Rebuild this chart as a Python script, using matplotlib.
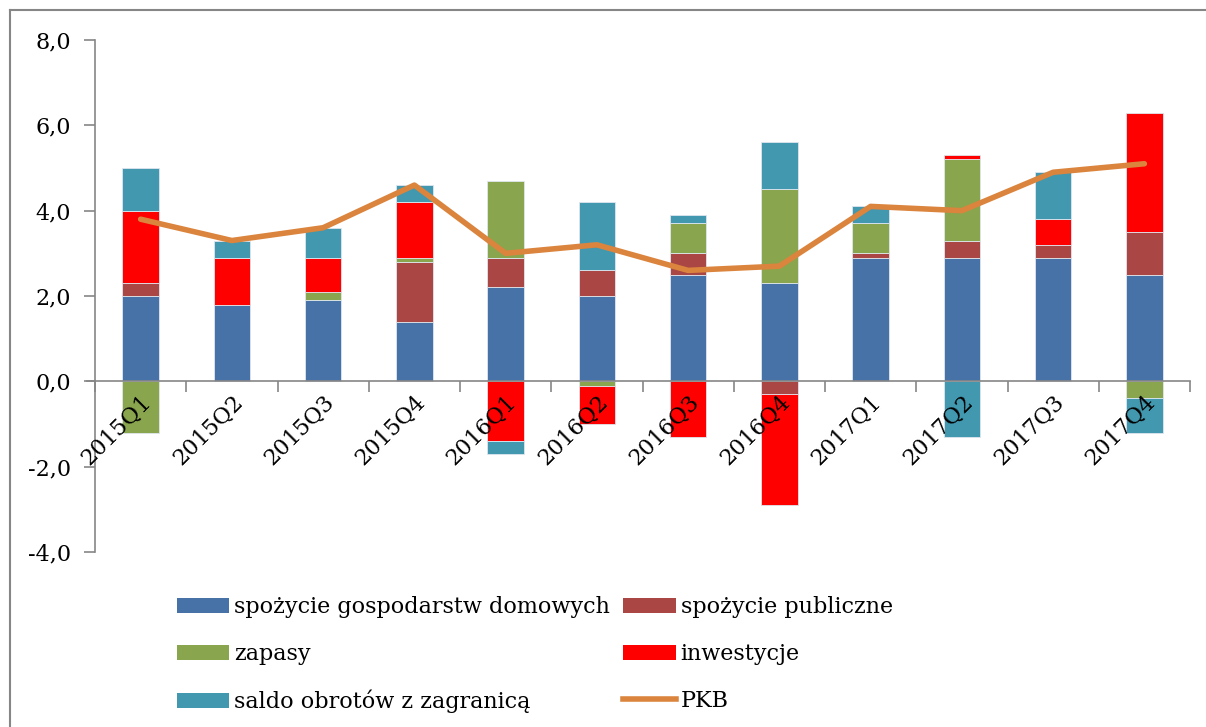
import numpy as np
import matplotlib
matplotlib.use('Agg')
import matplotlib.pyplot as plt
from matplotlib.patches import Patch
from matplotlib.lines import Line2D

plt.rcParams['font.family'] = ['DejaVu Serif']

# Data (percentage points contributions to GDP growth)
quarters = ['2015Q1', '2015Q2', '2015Q3', '2015Q4',
            '2016Q1', '2016Q2', '2016Q3', '2016Q4',
            '2017Q1', '2017Q2', '2017Q3', '2017Q4']
households = [2.0, 1.8, 1.9, 1.4, 2.2, 2.0, 2.5, 2.3, 2.9, 2.9, 2.9, 2.5]
public = [0.3, 0.0, 0.0, 1.4, 0.7, 0.6, 0.5, -0.3, 0.1, 0.4, 0.3, 1.0]
inventories = [-1.2, 0.0, 0.2, 0.1, 1.8, -0.1, 0.7, 2.2, 0.7, 1.9, 0.0, -0.4]
investment = [1.7, 1.1, 0.8, 1.3, -1.4, -0.9, -1.3, -2.6, 0.0, 0.1, 0.6, 2.8]
net_exports = [1.0, 0.4, 0.7, 0.4, -0.3, 1.6, 0.2, 1.1, 0.4, -1.3, 1.1, -0.8]
gdp = [3.8, 3.3, 3.6, 4.6, 3.0, 3.2, 2.6, 2.7, 4.1, 4.0, 4.9, 5.1]

series = [
    ('spożycie gospodarstw domowych', households, '#4672A8'),
    ('spożycie publiczne', public, '#AA4643'),
    ('zapasy', inventories, '#89A54E'),
    ('inwestycje', investment, '#FF0000'),
    ('saldo obrotów z zagranicą', net_exports, '#4198AF'),
]

W, H = 1206, 727
fig = plt.figure(figsize=(W / 100, H / 100), dpi=100)
ax = fig.add_axes([95 / W, 1 - 552 / H, (1190 - 95) / W, (552 - 40) / H])
ax.set_axisbelow(False)

x = np.arange(len(quarters))
pos_bottom = np.zeros(len(x))
neg_bottom = np.zeros(len(x))
handles = {}
for name, vals, color in series:
    v = np.array(vals)
    bottom = np.where(v >= 0, pos_bottom, neg_bottom)
    ax.bar(x, v, 0.4, bottom=bottom, color=color, edgecolor='#dfe6ee',
           linewidth=0.6, zorder=2)
    pos_bottom += np.where(v > 0, v, 0)
    neg_bottom += np.where(v < 0, v, 0)
    handles[name] = Patch(facecolor=color, edgecolor='none')

ax.plot(x, gdp, color='#DB843D', lw=4, zorder=3, solid_capstyle='round')
handles['PKB'] = Line2D([], [], color='#DB843D', lw=4)

ax.set_xlim(-0.5, 11.5)
ax.set_ylim(-4, 8)
yt = np.arange(-4, 9, 2)
ax.set_yticks(yt)
ax.set_yticklabels([f'{t:.1f}'.replace('.', ',') for t in yt], fontsize=16)

for s in ['top', 'right']:
    ax.spines[s].set_visible(False)
ax.spines['bottom'].set_position(('data', 0))
for s in ['left', 'bottom']:
    ax.spines[s].set_color('#868686')
    ax.spines[s].set_linewidth(1.2)
# small stub of the x axis left of the y axis
ax.plot([-0.5 - 8 / 91.25, -0.5], [0, 0], color='#868686', lw=1.2, clip_on=False)

ax.set_xticks(x)
ax.set_xticklabels(quarters, rotation=45, ha='right', va='top',
                   rotation_mode='anchor', fontsize=16)
ax.set_xticks(np.arange(-0.5, 12, 1), minor=True)
ax.tick_params(axis='x', which='major', length=0, pad=7)
ax.tick_params(axis='x', which='minor', length=8, color='#868686', width=1.2)
ax.tick_params(axis='y', length=8, color='#868686', width=1.2, pad=9.5)

order = ['spożycie gospodarstw domowych', 'zapasy', 'saldo obrotów z zagranicą',
         'spożycie publiczne', 'inwestycje', 'PKB']
fig.legend([handles[k] for k in order], order, ncol=2, frameon=False,
           loc='upper left', bbox_to_anchor=(166 / W, 1 - 585 / H),
           fontsize=16, handlelength=2.35, handleheight=0.68, handletextpad=0.22,
           columnspacing=0.6, labelspacing=1.12, borderpad=0)

# chart-area border (top and left edges visible)
fig.add_artist(Line2D([10 / W, 10 / W], [0, 1 - 10 / H], transform=fig.transFigure,
                      color='#868686', lw=1.5))
fig.add_artist(Line2D([10 / W, 1], [1 - 10 / H, 1 - 10 / H], transform=fig.transFigure,
                      color='#868686', lw=1.5))

fig.savefig('out.png', dpi=100)
